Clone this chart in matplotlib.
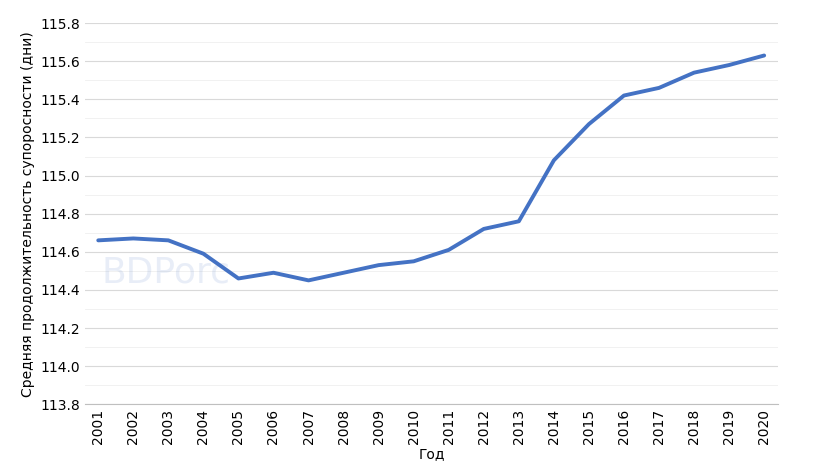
import matplotlib.pyplot as plt
from matplotlib.ticker import MultipleLocator

years = list(range(2001, 2021))
values = [114.66, 114.67, 114.66, 114.59, 114.46, 114.49, 114.45, 114.49, 114.53, 114.55,
          114.61, 114.72, 114.76, 115.08, 115.27, 115.42, 115.46, 115.54, 115.58, 115.63]

fig = plt.figure(figsize=(8.2, 4.62), dpi=100)
ax = fig.add_axes([0.104, 0.125, 0.845, 0.825])
ax.plot(years, values, color="#4472C4", lw=2.8, solid_capstyle="round")
ax.set_xlim(2000.63, 2020.4)
ax.set_ylim(113.8, 115.8)
ax.yaxis.set_minor_locator(MultipleLocator(0.1))
ax.set_yticks([113.8 + 0.2 * i for i in range(11)])
ax.set_yticklabels([f"{113.8 + 0.2 * i:.1f}" for i in range(11)])
ax.set_xticks(years)
ax.set_xticklabels([str(y) for y in years], rotation=90)
ax.grid(axis="y", which="major", color="#d9d9d9", lw=0.8)
ax.grid(axis="y", which="minor", color="#efefef", lw=0.6)
for s in ["top", "right", "left"]:
    ax.spines[s].set_visible(False)
ax.spines["bottom"].set_color("#bfbfbf")
ax.tick_params(axis="both", which="both", length=0, labelsize=10)
ax.set_axisbelow(True)
ax.text(2001.1, 114.44, "BDPorc", fontsize=26, color="#4472C4", alpha=0.12)
ax.set_xlabel("Год", fontsize=10, labelpad=2)
ax.set_ylabel("Средняя продолжительность супоросности (дни)", fontsize=10)
fig.savefig("out.png")
